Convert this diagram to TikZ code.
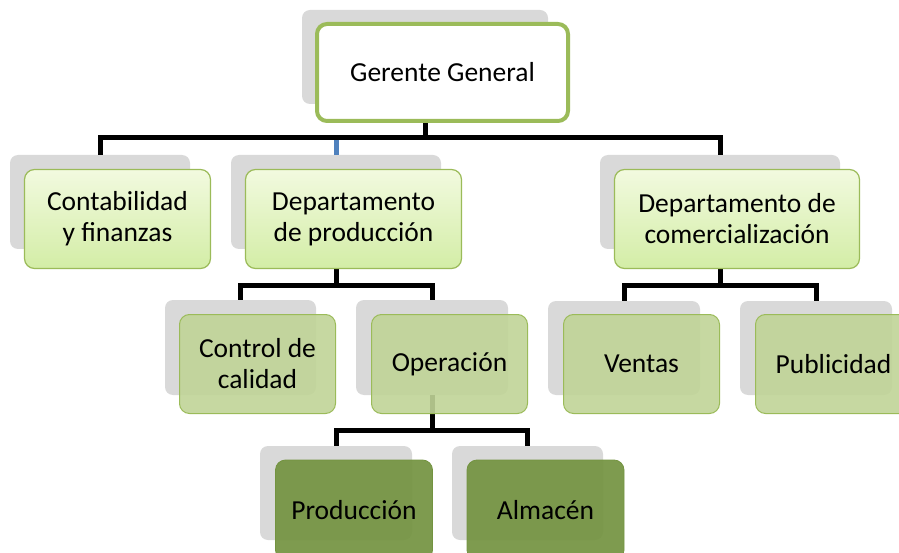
\documentclass[tikz,border=0pt]{standalone}
\usepackage{fontspec}
\setmainfont{Carlito}
\usepackage{tikz}

\definecolor{oliveline}{HTML}{9BBB59}
\definecolor{shadowgray}{HTML}{D9D9D9}
\definecolor{lvonetop}{HTML}{F2FADF}
\definecolor{lvonebot}{HTML}{D3EDA6}
\definecolor{lvtwofill}{HTML}{C0D497}
\definecolor{lvthreefill}{HTML}{739340}
\definecolor{blueline}{HTML}{4F81BD}

\tikzset{
    conn/.style={line width=5pt},
    backbox/.style={fill=shadowgray, rounded corners=8pt, inner sep=0pt},
    topbox/.style={draw=oliveline, line width=4pt, fill=white, rounded corners=10pt,
        inner sep=0pt, minimum width=251pt, minimum height=97pt},
    lvone/.style={draw=oliveline, line width=1.2pt, top color=lvonetop, bottom color=lvonebot,
        rounded corners=10pt, inner sep=0pt, minimum height=99pt, align=center},
    lvtwo/.style={draw=oliveline, line width=1pt, fill=lvtwofill, fill opacity=0.9, text opacity=1,
        rounded corners=10pt, inner sep=0pt, minimum width=156pt, minimum height=99pt, align=center},
    lvthree/.style={draw=lvthreefill, line width=0.8pt, fill=lvthreefill, fill opacity=0.92, text opacity=1,
        rounded corners=10pt, inner sep=0pt, minimum width=157pt, minimum height=100pt, align=center}
}

\begin{document}
\begin{tikzpicture}[x=1pt, y=-1pt, font=\fontsize{27.5}{31}\selectfont]
    \useasboundingbox (0,0) rectangle (899,553);
    \clip (0,0) rectangle (899,553);

    % Gray back boxes
    \node[backbox, minimum width=246pt, minimum height=94pt] (gerS) at (425,57) {};
    \node[backbox, minimum width=180pt, minimum height=94pt] (contS) at (100,202) {};
    \node[backbox, minimum width=210pt, minimum height=94pt] (prodS) at (336,202) {};
    \node[backbox, minimum width=240pt, minimum height=94pt] (comS) at (720,202) {};
    \node[backbox, minimum width=151pt, minimum height=95pt] (calS) at (240.5,347.5) {};
    \node[backbox, minimum width=152pt, minimum height=95pt] (operS) at (432,347.5) {};
    \node[backbox, minimum width=152pt, minimum height=94pt] (ventS) at (624,348) {};
    \node[backbox, minimum width=152pt, minimum height=94pt] (publS) at (816,348) {};
    \node[backbox, minimum width=152pt, minimum height=94pt] (produS) at (336,493) {};
    \node[backbox, minimum width=151pt, minimum height=94pt] (almS) at (527.5,493) {};

    % Connectors
    \coordinate (barA) at (425,138);
    \coordinate (barB) at (336,285);
    \coordinate (barC) at (720,285);
    \coordinate (barD) at (432,430);
    \draw[conn, blueline] (prodS.north) -- (prodS.north |- barA);
    \draw[conn] (contS.north) |- (barA) -| (comS.north);
    \draw[conn] (gerS.south) -- (barA);
    \draw[conn] (calS.north) |- (barB) -| (operS.north);
    \draw[conn] (prodS.south) -- (barB);
    \draw[conn] (ventS.north) |- (barC) -| (publS.north);
    \draw[conn] (comS.south) -- (barC);
    \draw[conn] (produS.north) |- (barD) -| (almS.north);
    \draw[conn] (operS.south) -- (barD);

    % Front boxes
    \node[topbox] (ger) at (442.5,72.5) {Gerente General};
    \node[lvone, minimum width=186pt] (cont) at (117.5,219) {Contabilidad\\y finanzas};
    \node[lvone, minimum width=216pt] (prod) at (353.5,219) {Departamento\\de producción};
    \node[lvone, minimum width=245pt] (com) at (737,219) {Departamento de\\comercialización};
    \node[lvtwo] (cal) at (257.5,364) {Control de\\calidad};
    \node[lvtwo] (oper) at (449.5,364) {Operación};
    \node[lvtwo] (vent) at (641.5,364) {Ventas};
    \node[lvtwo] (publ) at (833.5,364) {Publicidad};
    \node[lvthree] (produ) at (354,510) {Producción};
    \node[lvthree] (alm) at (545.5,510) {Almacén};
\end{tikzpicture}
\end{document}
